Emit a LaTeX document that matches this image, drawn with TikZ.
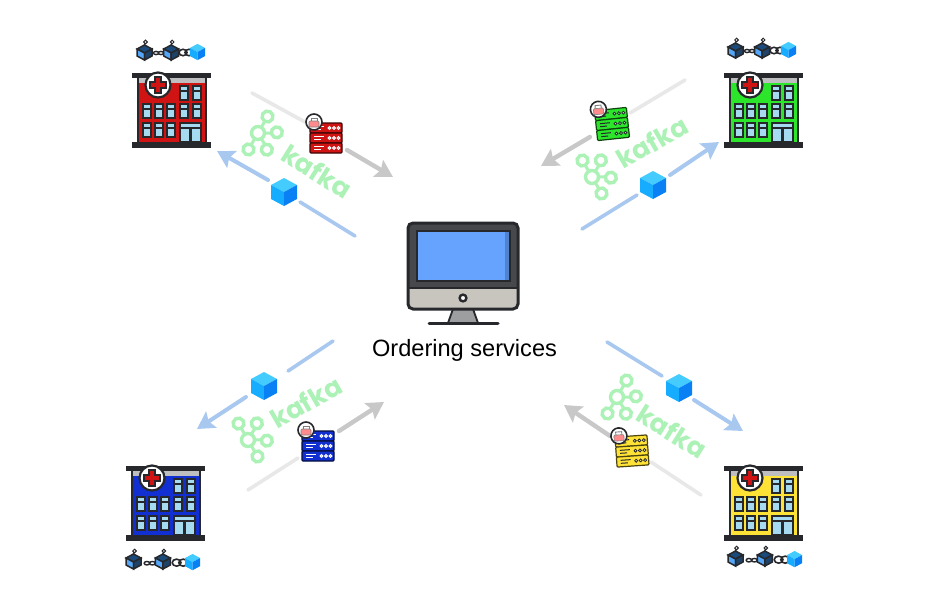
\documentclass[tikz,border=0pt]{standalone}
\usepackage{fontspec}
\setmainfont{Liberation Sans}
\newfontfamily\kafkafont{Poppins}
\usepackage{tikz}
\usetikzlibrary{arrows.meta}
\definecolor{hosred}{HTML}{D01414}
\definecolor{hosgreen}{HTML}{2CE62C}
\definecolor{hosblue}{HTML}{1230D2}
\definecolor{hosyellow}{HTML}{FFE236}
\definecolor{ink}{HTML}{26282C}
\definecolor{glass}{HTML}{A6DAF0}
\definecolor{cubetop}{HTML}{45CCFF}
\definecolor{cubeleft}{HTML}{16ACFF}
\definecolor{cuberight}{HTML}{0A80F5}
\definecolor{kafkagreen}{HTML}{ACF2B6}
\definecolor{arrblue}{HTML}{A8C8F0}
\definecolor{arrgrey}{HTML}{C8C8C8}
\definecolor{fadegrey}{HTML}{E8E8E8}
\definecolor{screenblue}{HTML}{66A3FF}
\definecolor{chin}{HTML}{C8C5BF}

\tikzset{
	pics/cube/.style={code={
		\fill[cubetop] (0,-14) -- (13,-7) -- (0,0) -- (-13,-7) -- cycle;
		\fill[cubeleft] (-13,-7) -- (0,0) -- (0,14) -- (-13,7) -- cycle;
		\fill[cuberight] (13,-7) -- (0,0) -- (0,14) -- (13,7) -- cycle;
	}},
	pics/block/.style={code={
		\draw[ink, line width=1.2pt] (7,5) -- (8.5,1);
		\draw[ink, line width=1pt, fill=white] (8.5,1) circle (1.8);
		\draw[ink, line width=1.5pt, fill=ink!60!cuberight] (7.5,4) -- (15,8) -- (7.5,12) -- (0,8) -- cycle;
		\draw[ink, line width=1.5pt, fill=cuberight!70] (0,8) -- (7.5,12) -- (7.5,19) -- (0,15) -- cycle;
		\draw[ink, line width=1.5pt, fill=ink!70!cuberight] (15,8) -- (7.5,12) -- (7.5,19) -- (15,15) -- cycle;
	}},
	pics/blockchain/.style={code={
		\pic at (0,0) {block};
		\pic at (26.7,0) {block};
		\draw[ink, line width=1.4pt] (19,12) ellipse (2.5 and 1.6) (24,12) ellipse (2.5 and 1.6);
		\draw[ink, line width=1.6pt] (46,11.5) ellipse (4 and 3.2);
		\draw[ink, line width=1.6pt] (52,11.5) ellipse (4 and 3.2);
		\pic[scale=0.58] at (60.5,11) {cube};
	}},
	pics/hospital/.style={code={
		\fill[#1] (6,4) rectangle (74,72);
		\fill[ink!30] (6,7) rectangle (74,12);
		\draw[ink, line width=2pt] (6,4) rectangle (74,72);
		\fill[ink] (0,2) rectangle (79,7);
		\fill[ink] (0,71) rectangle (79,77);
		\draw[ink, line width=2.2pt, fill=white] (26,14) circle (12.5);
		\draw[ink, line width=1.2pt, fill=hosred] (23,6) -- (29,6) -- (29,11) -- (34,11) -- (34,17) -- (29,17) -- (29,22) -- (23,22) -- (23,17) -- (18,17) -- (18,11) -- (23,11) -- cycle;
		\foreach \wx in {48,61}
			\draw[ink, line width=2.2pt, fill=glass] (\wx,15) rectangle ++(8,14) (\wx,20) -- ++(8,0);
		\foreach \wx in {11,23,35,48,61}
			\draw[ink, line width=2.2pt, fill=glass] (\wx,33) rectangle ++(8,14) (\wx,38) -- ++(8,0);
		\foreach \wx in {11,23,35}
			\draw[ink, line width=2.2pt, fill=glass] (\wx,52) rectangle ++(8,14) (\wx,57) -- ++(8,0);
		\draw[ink, line width=2.2pt, fill=glass] (48,52) rectangle (69,71) (48,57) -- (69,57) (58.5,57) -- (58.5,71);
	}},
	pics/server/.style 2 args={code={
		\foreach \ry in {-15,-5,5} {
			\draw[#1!30!black, line width=1.2pt, fill=#1, rounded corners=1pt] (-16,\ry) rectangle (16,\ry+10);
			\draw[#2, line width=1pt] (-12,\ry+3.5) -- (-2,\ry+3.5) (-12,\ry+6.5) -- (-5,\ry+6.5);
			\foreach \dx in {3.5,8,12.5}
				\draw[#2, line width=0.8pt, fill=#1!40!white] (\dx,\ry+5) circle (1.5);
		}
		\draw[ink, line width=1.6pt, fill=white] (-12,-16) circle (8);
		\draw[ink!60, line width=0.9pt] (-15,-17) -- (-15,-20) -- (-9,-20) -- (-9,-17);
		\draw[ink!60, line width=0.6pt, fill=red!45, rounded corners=1pt] (-17,-17) rectangle (-7,-11);
	}},
	pics/kafkalogo/.style={code={
		\draw[kafkagreen, line width=3pt] (0,-20) -- (0,20) (0,0) -- (16,-9) (0,0) -- (16,9);
		\foreach \cx/\cy/\cr in {0/-19/5.5, 0/19/5.5, 16/-10/5.5, 16/10/5.5, 0/0/6.5}
			\draw[kafkagreen, line width=3.4pt, fill=white] (\cx,\cy) circle (\cr);
	}}
}

\begin{document}
\begin{tikzpicture}[x=1pt, y=-1pt]

\tikzstyle{kafkatxt}=[
	font=\kafkafont\bfseries\fontsize{26}{26}\selectfont,
	color=kafkagreen,
	inner sep=0pt
]
\tikzstyle{arrblock}=[-{Stealth[length=17pt, width=19pt, inset=3pt]}, color=arrblue, line width=4pt, line cap=round]
\tikzstyle{arrcert}=[-{Stealth[length=17pt, width=19pt, inset=3pt]}, color=arrgrey, line width=4.4pt, line cap=round]
\tikzstyle{lineblock}=[color=arrblue, line width=3.6pt, line cap=round]
\tikzstyle{linecert}=[color=fadegrey, line width=3.6pt, line cap=round]

\useasboundingbox (0,0) rectangle (952,597);
\fill[white] (0,0) rectangle (952,597);

% end points of the connectors
\coordinate (tlfade0) at (252,93);
\coordinate (tlfade1) at (305,122);
\coordinate (tlcert0) at (347,150);
\coordinate (tlcert1) at (393,177);
\coordinate (tlblock0) at (268,180);
\coordinate (tlblock1) at (217,151);
\coordinate (tlline0) at (355,236);
\coordinate (tlline1) at (300,202);

\coordinate (trfade0) at (685,80);
\coordinate (trfade1) at (630,113);
\coordinate (trcert0) at (590,137);
\coordinate (trcert1) at (541,166);
\coordinate (trblock0) at (670,175);
\coordinate (trblock1) at (719,142);
\coordinate (trline0) at (582,229);
\coordinate (trline1) at (637,195);

\coordinate (blfade0) at (248,490);
\coordinate (blfade1) at (298,458);
\coordinate (blcert0) at (339,431);
\coordinate (blcert1) at (384,402);
\coordinate (blblock0) at (246,397);
\coordinate (blblock1) at (197,429);
\coordinate (blline0) at (333,341);
\coordinate (blline1) at (288,371);

\coordinate (brfade0) at (701,495);
\coordinate (brfade1) at (651,462);
\coordinate (brcert0) at (610,436);
\coordinate (brcert1) at (564,405);
\coordinate (brblock0) at (694,400);
\coordinate (brblock1) at (743,431);
\coordinate (brline0) at (607,342);
\coordinate (brline1) at (662,376);

\foreach \qd in {tl,tr,bl,br} {
	\draw[linecert] (\qd fade0) -- (\qd fade1);
	\draw[arrcert] (\qd cert0) -- (\qd cert1);
	\draw[arrblock] (\qd block0) -- (\qd block1);
	\draw[lineblock] (\qd line0) -- (\qd line1);
}

\pic[rotate=-30] at (258,133) {kafkalogo};
\pic[rotate=30] at (592,177) {kafkalogo};
\pic[rotate=30] at (248,440) {kafkalogo};
\pic[rotate=-30] at (617,397) {kafkalogo};
\node[kafkatxt, rotate=-32] (kafkatl) at (317,171) {kafka};
\node[kafkatxt, rotate=30] (kafkatr) at (652,142) {kafka};
\node[kafkatxt, rotate=30] (kafkabl) at (306,402) {kafka};
\node[kafkatxt, rotate=-32] (kafkabr) at (672,431) {kafka};

\pic at (284,192) {cube};
\pic at (653,185) {cube};
\pic at (264,386) {cube};
\pic at (679,388) {cube};

\pic at (326,138) {server={hosred}{white}};
\pic[rotate=6] at (612,124) {server={hosgreen}{ink}};
\pic at (318,446) {server={hosblue}{white}};
\pic[rotate=4] at (632,451) {server={hosyellow}{ink}};

\pic at (132,71) {hospital=hosred};
\pic at (724,71) {hospital=hosgreen};
\pic at (126,464) {hospital=hosblue};
\pic at (724,464) {hospital=hosyellow};

\pic at (137,41) {blockchain};
\pic at (728,39) {blockchain};
\pic[scale=1.1] at (126,550) {blockchain};
\pic[scale=1.1] at (728,547) {blockchain};

% monitor
\fill[ink!45] (453,309) -- (473,309) -- (478,323) -- (448,323) -- cycle;
\draw[ink, line width=1.8pt] (453,309) -- (448,323) (473,309) -- (478,323);
\draw[ink, line width=3pt, line cap=round] (429,323) -- (498,323);
\begin{scope}
	\clip[rounded corners=5pt] (408,223) rectangle (518,309);
	\fill[ink!85] (408,223) rectangle (518,288);
	\fill[chin] (408,288) rectangle (518,309);
\end{scope}
\draw[ink, line width=3pt, rounded corners=5pt] (408,223) rectangle (518,309);
\draw[ink, line width=2pt] (408,288) -- (518,288);
\fill[screenblue] (417,231) rectangle (510,281);
\fill[screenblue!80!black] (505,231) rectangle (510,281);
\draw[ink, line width=2pt] (417,231) rectangle (510,281);
\draw[ink, line width=2.4pt, fill=white] (463,298) circle (3.4);

\node[font=\fontsize{23.6}{24}\selectfont, inner sep=0pt, text=black] (ordering) at (464.5,350) {Ordering services};

\end{tikzpicture}
\end{document}
